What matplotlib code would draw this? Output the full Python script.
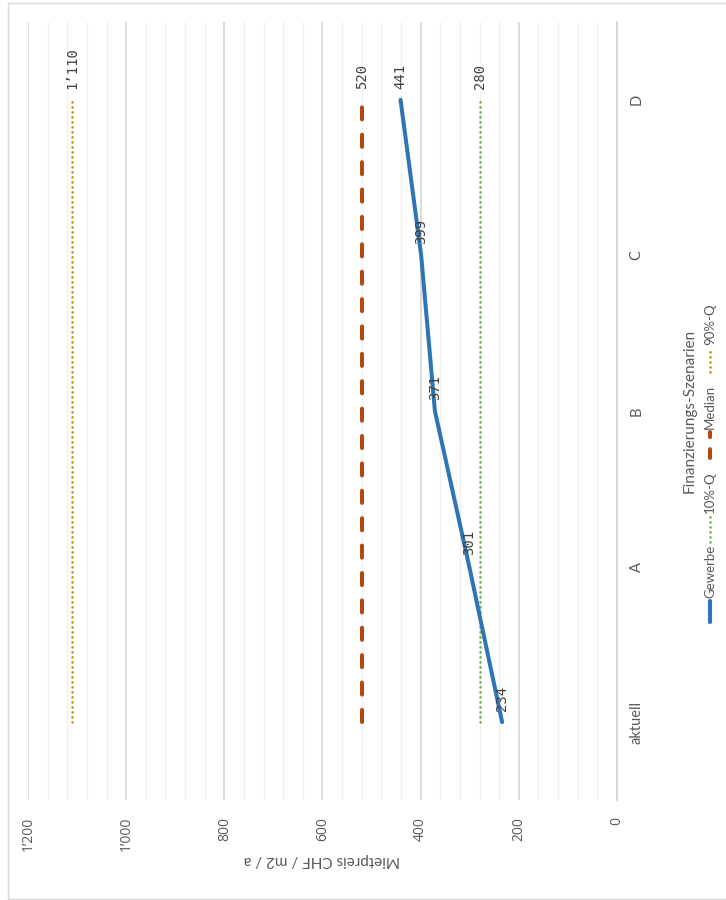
import matplotlib
matplotlib.use("Agg")
import matplotlib.pyplot as plt
from matplotlib.lines import Line2D
from matplotlib.patches import Rectangle
from matplotlib.ticker import MultipleLocator, FuncFormatter

# ---- data ----
categories = ["aktuell", "A", "B", "C", "D"]
gewerbe = [234, 301, 371, 399, 441]
q10 = [280, 280, 280, 280, 280]
median = [520, 520, 520, 520, 520]
q90 = [1110, 1110, 1110, 1110, 1110]

series_names = ["Gewerbe", "10%-Q", "Median", "90%-Q"]
value_title = "Mietpreis CHF / m2 / a"
category_title = "Finanzierungs-Szenarien"

C_BLUE = "#2E75B6"
C_GREEN = "#70AD47"
C_ORANGE = "#B04A0E"
C_GOLD = "#BF9000"
C_TEXT = "#595959"
C_LABEL = "#404040"

W, H = 726, 900
DPI = 100
fig = plt.figure(figsize=(W / DPI, H / DPI), dpi=DPI)
fig.patch.set_facecolor("white")


def px(x, y):
    """pixel position (from top-left) -> figure fraction"""
    return x / W, 1 - y / H


# chart frame
fig.add_artist(Rectangle(px(8, 899), (W + 10 - 8) / W, (899 - 3) / H,
                         transform=fig.transFigure, fill=False,
                         edgecolor="#D9D9D9", linewidth=1.0))

left, top = px(28, 22)
right, bottom = px(617, 800)
ax = fig.add_axes([left, bottom, right - left, top - bottom])

ypos = list(range(len(categories)))
ax.set_xlim(1200, 0)
ax.set_ylim(-0.5, len(categories) - 0.5)

# grid
ax.xaxis.set_major_locator(MultipleLocator(200))
ax.xaxis.set_minor_locator(MultipleLocator(40))
ax.grid(which="major", axis="x", color="#D6D6D6", linewidth=1.2)
ax.grid(which="minor", axis="x", color="#F0F0F0", linewidth=1.0)
ax.set_axisbelow(True)
for s in ["left", "top", "bottom"]:
    ax.spines[s].set_visible(False)
ax.spines["right"].set_color("#D6D6D6")
ax.spines["right"].set_linewidth(1.3)

# value ticks
ax.xaxis.set_major_formatter(FuncFormatter(lambda v, p: f"{int(v):,}".replace(",", "\u2019")))
ax.tick_params(axis="x", which="both", length=0, pad=12, labelsize=10, labelcolor=C_TEXT)
for lbl in ax.get_xticklabels():
    lbl.set_rotation(90)
    lbl.set_ha("center")
    lbl.set_va("top")
    lbl.set_family("Open Sans")

# category ticks
ax.yaxis.tick_right()
ax.set_yticks(ypos)
ax.set_yticklabels(categories)
ax.tick_params(axis="y", length=0, pad=9, labelsize=10.5, labelcolor=C_TEXT)
for lbl in ax.get_yticklabels():
    lbl.set_rotation(90)
    lbl.set_ha("left")
    lbl.set_va("center")
    lbl.set_family("Lato")

# series
dot = (0, (0.1, 1.9))
ax.plot(q90, ypos, color=C_GOLD, linewidth=1.8, linestyle=dot,
        dash_capstyle="round")
ax.plot(median, ypos, color=C_ORANGE, linewidth=2.9, linestyle=(0, (3.0, 3.8)),
        dash_capstyle="round")
ax.plot(q10, ypos, color=C_GREEN, linewidth=1.8, linestyle=dot,
        dash_capstyle="round")
ax.plot(gewerbe, ypos, color=C_BLUE, linewidth=2.9, solid_capstyle="round",
        solid_joinstyle="round")


def fmt(v):
    return f"{v:,}".replace(",", "\u2019")


def label(v, y):
    ax.annotate(fmt(v), (v, y), xytext=(0, 8), textcoords="offset points",
                rotation=90, ha="center", va="bottom", fontsize=10,
                color=C_LABEL, family="DejaVu Sans Mono")


for v, y in zip(gewerbe, ypos):
    label(v, y)
label(q10[-1], ypos[-1])
label(median[-1], ypos[-1])
label(q90[-1], ypos[-1])

# axis titles
tx, ty = px(322, 860)
fig.text(tx, ty, value_title, rotation=180, ha="center", va="center",
         fontsize=11, color=C_TEXT, family="Lato")
tx, ty = px(690, 411)
fig.text(tx, ty, category_title, rotation=90, ha="center", va="center",
         fontsize=11, color=C_TEXT, family="Lato")

# legend (vertical, reading bottom to top)
leg_x = 710
legend_items = [
    (series_names[0], dict(color=C_BLUE, linewidth=3.0, solid_capstyle="round"), 622, 601, 598),
    (series_names[1], dict(color=C_GREEN, linewidth=1.8, linestyle=dot,
                           dash_capstyle="round"), 542, 516, 513),
    (series_names[2], dict(color=C_ORANGE, linewidth=2.9, linestyle=(0, (2.2, 3.0)),
                           dash_capstyle="round"), 458, 432, 429),
    (series_names[3], dict(color=C_GOLD, linewidth=1.8, linestyle=dot,
                           dash_capstyle="round"), 372, 348, 345),
]
for name, style, y0, y1, ytext in legend_items:
    xa, ya = px(leg_x, y0)
    _, yb = px(leg_x, y1)
    fig.add_artist(Line2D([xa, xa], [ya, yb], transform=fig.transFigure, **style))
    xt, yt = px(leg_x, ytext)
    fig.text(xt, yt, name, rotation=90, ha="center", va="bottom",
             fontsize=9.5, color=C_TEXT, family="Lato")

fig.savefig("out.png", dpi=DPI, facecolor="white")
